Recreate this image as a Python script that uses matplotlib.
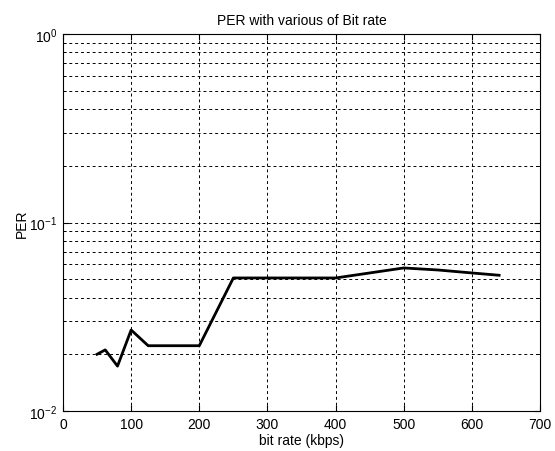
import matplotlib
matplotlib.use("Agg")
import matplotlib.pyplot as plt
from matplotlib.ticker import LogLocator, NullFormatter, MultipleLocator

bit_rate = [50, 62, 80, 100, 125, 200, 250, 400, 450, 500, 550, 600, 640]
per = [0.0200, 0.0211, 0.0173, 0.0269, 0.0222, 0.0222, 0.0508, 0.0508,
       0.0540, 0.0574, 0.0560, 0.0540, 0.0525]

plt.rcParams['font.family'] = ['Liberation Sans', 'DejaVu Sans']
plt.rcParams['mathtext.default'] = 'regular'
plt.rcParams['font.size'] = 10

fig = plt.figure(figsize=(5.55, 4.52), dpi=100)
ax = fig.add_axes([0.1135, 0.0885, 0.8595, 0.834])
ax.plot(bit_rate, per, color='black', linewidth=2)
ax.set_yscale('log')
ax.set_xlim(0, 700)
ax.set_ylim(1e-2, 1e0)
ax.xaxis.set_major_locator(MultipleLocator(100))
ax.yaxis.set_major_locator(LogLocator(base=10, numticks=10))
ax.yaxis.set_minor_locator(LogLocator(base=10, subs=range(2, 10), numticks=20))
ax.yaxis.set_minor_formatter(NullFormatter())
ax.grid(True, which='both', axis='y', linestyle=(0, (3, 3)), color='black', linewidth=0.7)
ax.grid(True, which='major', axis='x', linestyle=(0, (3, 3)), color='black', linewidth=0.7)
ax.tick_params(which='both', direction='in', top=True, right=True, labelsize=10)
ax.tick_params(which='major', length=4, pad=4)
ax.tick_params(which='minor', length=2)
for s in ax.spines.values():
    s.set_linewidth(0.8)
ax.set_title('PER with various of Bit rate', fontsize=10, pad=7)
ax.set_xlabel('bit rate (kbps)', fontsize=10, labelpad=2)
ax.set_ylabel('PER', fontsize=10, labelpad=0)
fig.savefig('out.png', dpi=100)
